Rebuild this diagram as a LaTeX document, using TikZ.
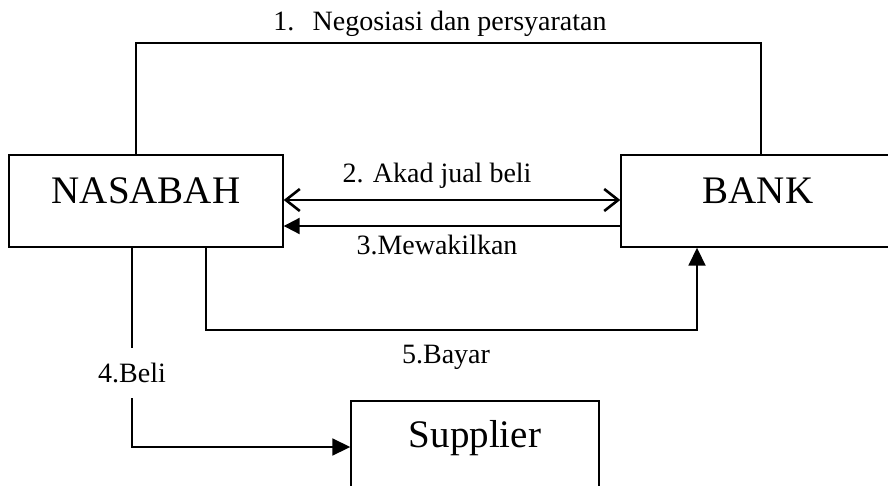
\documentclass[tikz,border=0pt]{standalone}
\usepackage{fontspec}
\setmainfont{Liberation Serif}
\usetikzlibrary{arrows.meta}

\begin{document}
\begin{tikzpicture}[x=1pt, y=-1pt,
    box/.style={draw=black, line width=1.4pt, rectangle, inner sep=0pt,
      font=\fontsize{39}{42}\selectfont},
    lbl/.style={font=\fontsize{28}{30}\selectfont, inner sep=0pt, anchor=base},
    link/.style={draw=black, line width=1.4pt},
    flow/.style={draw=black, line width=1.8pt, -{Triangle[length=18pt, width=17pt]}},
    openboth/.style={draw=black, line width=2.6pt,
      {Straight Barb[length=14pt, width=22pt]}-{Straight Barb[length=14pt, width=22pt]}},
    backflow/.style={draw=black, line width=2.1pt, -{Triangle[length=16pt, width=16pt]}}]

  \useasboundingbox (0,0) rectangle (888,485);
  \clip (0,0) rectangle (888,485);

  % parties
  \node[box, minimum width=274pt, text height=48pt, text depth=44pt]
    (nas) at (146,201) {NASABAH};
  \node[box, minimum width=274pt, text height=48pt, text depth=44pt]
    (bank) at (758,201) {BANK};
  \node[box, minimum width=248pt, text height=46pt, text depth=46pt]
    (sup) at (475,447) {Supplier};

  % 1. negotiation over the top
  \coordinate (t1) at (136,43);
  \coordinate (t2) at (761,43);
  \draw[link] (t1 |- nas.north) -- (t1) -- (t2) -- (t2 |- bank.north);
  \node[lbl] (l1) at (440,30) {1.\hspace{0.65em}Negosiasi dan persyaratan};

  % 2. sale contract, both ways
  \coordinate (a2) at (0,200);
  \draw[openboth] (nas.east |- a2) -- (bank.west |- a2);
  \node[lbl] (l2) at (437,182) {2. Akad jual beli};

  % 3. representation, bank to customer
  \coordinate (a3) at (0,226);
  \draw[backflow] (bank.west |- a3) -- (nas.east |- a3);
  \node[lbl] (l3) at (437,254) {3.Mewakilkan};

  % 5. payment, customer to bank
  \coordinate (c5a) at (206,330);
  \coordinate (c5b) at (697,330);
  \draw[flow] (c5a |- nas.south) -- (c5a) -- (c5b) -- (c5b |- bank.south);
  \node[lbl] (l5) at (446,363) {5.Bayar};

  % 4. purchase from the supplier
  \node[font=\fontsize{28}{30}\selectfont, inner sep=0pt, minimum height=50pt]
    (beli) at (132,373) {4.Beli};
  \draw[link, line width=1.8pt] (beli.north |- nas.south) -- (beli.north);
  \draw[flow] (beli.south) |- (sup.west);
\end{tikzpicture}
\end{document}
